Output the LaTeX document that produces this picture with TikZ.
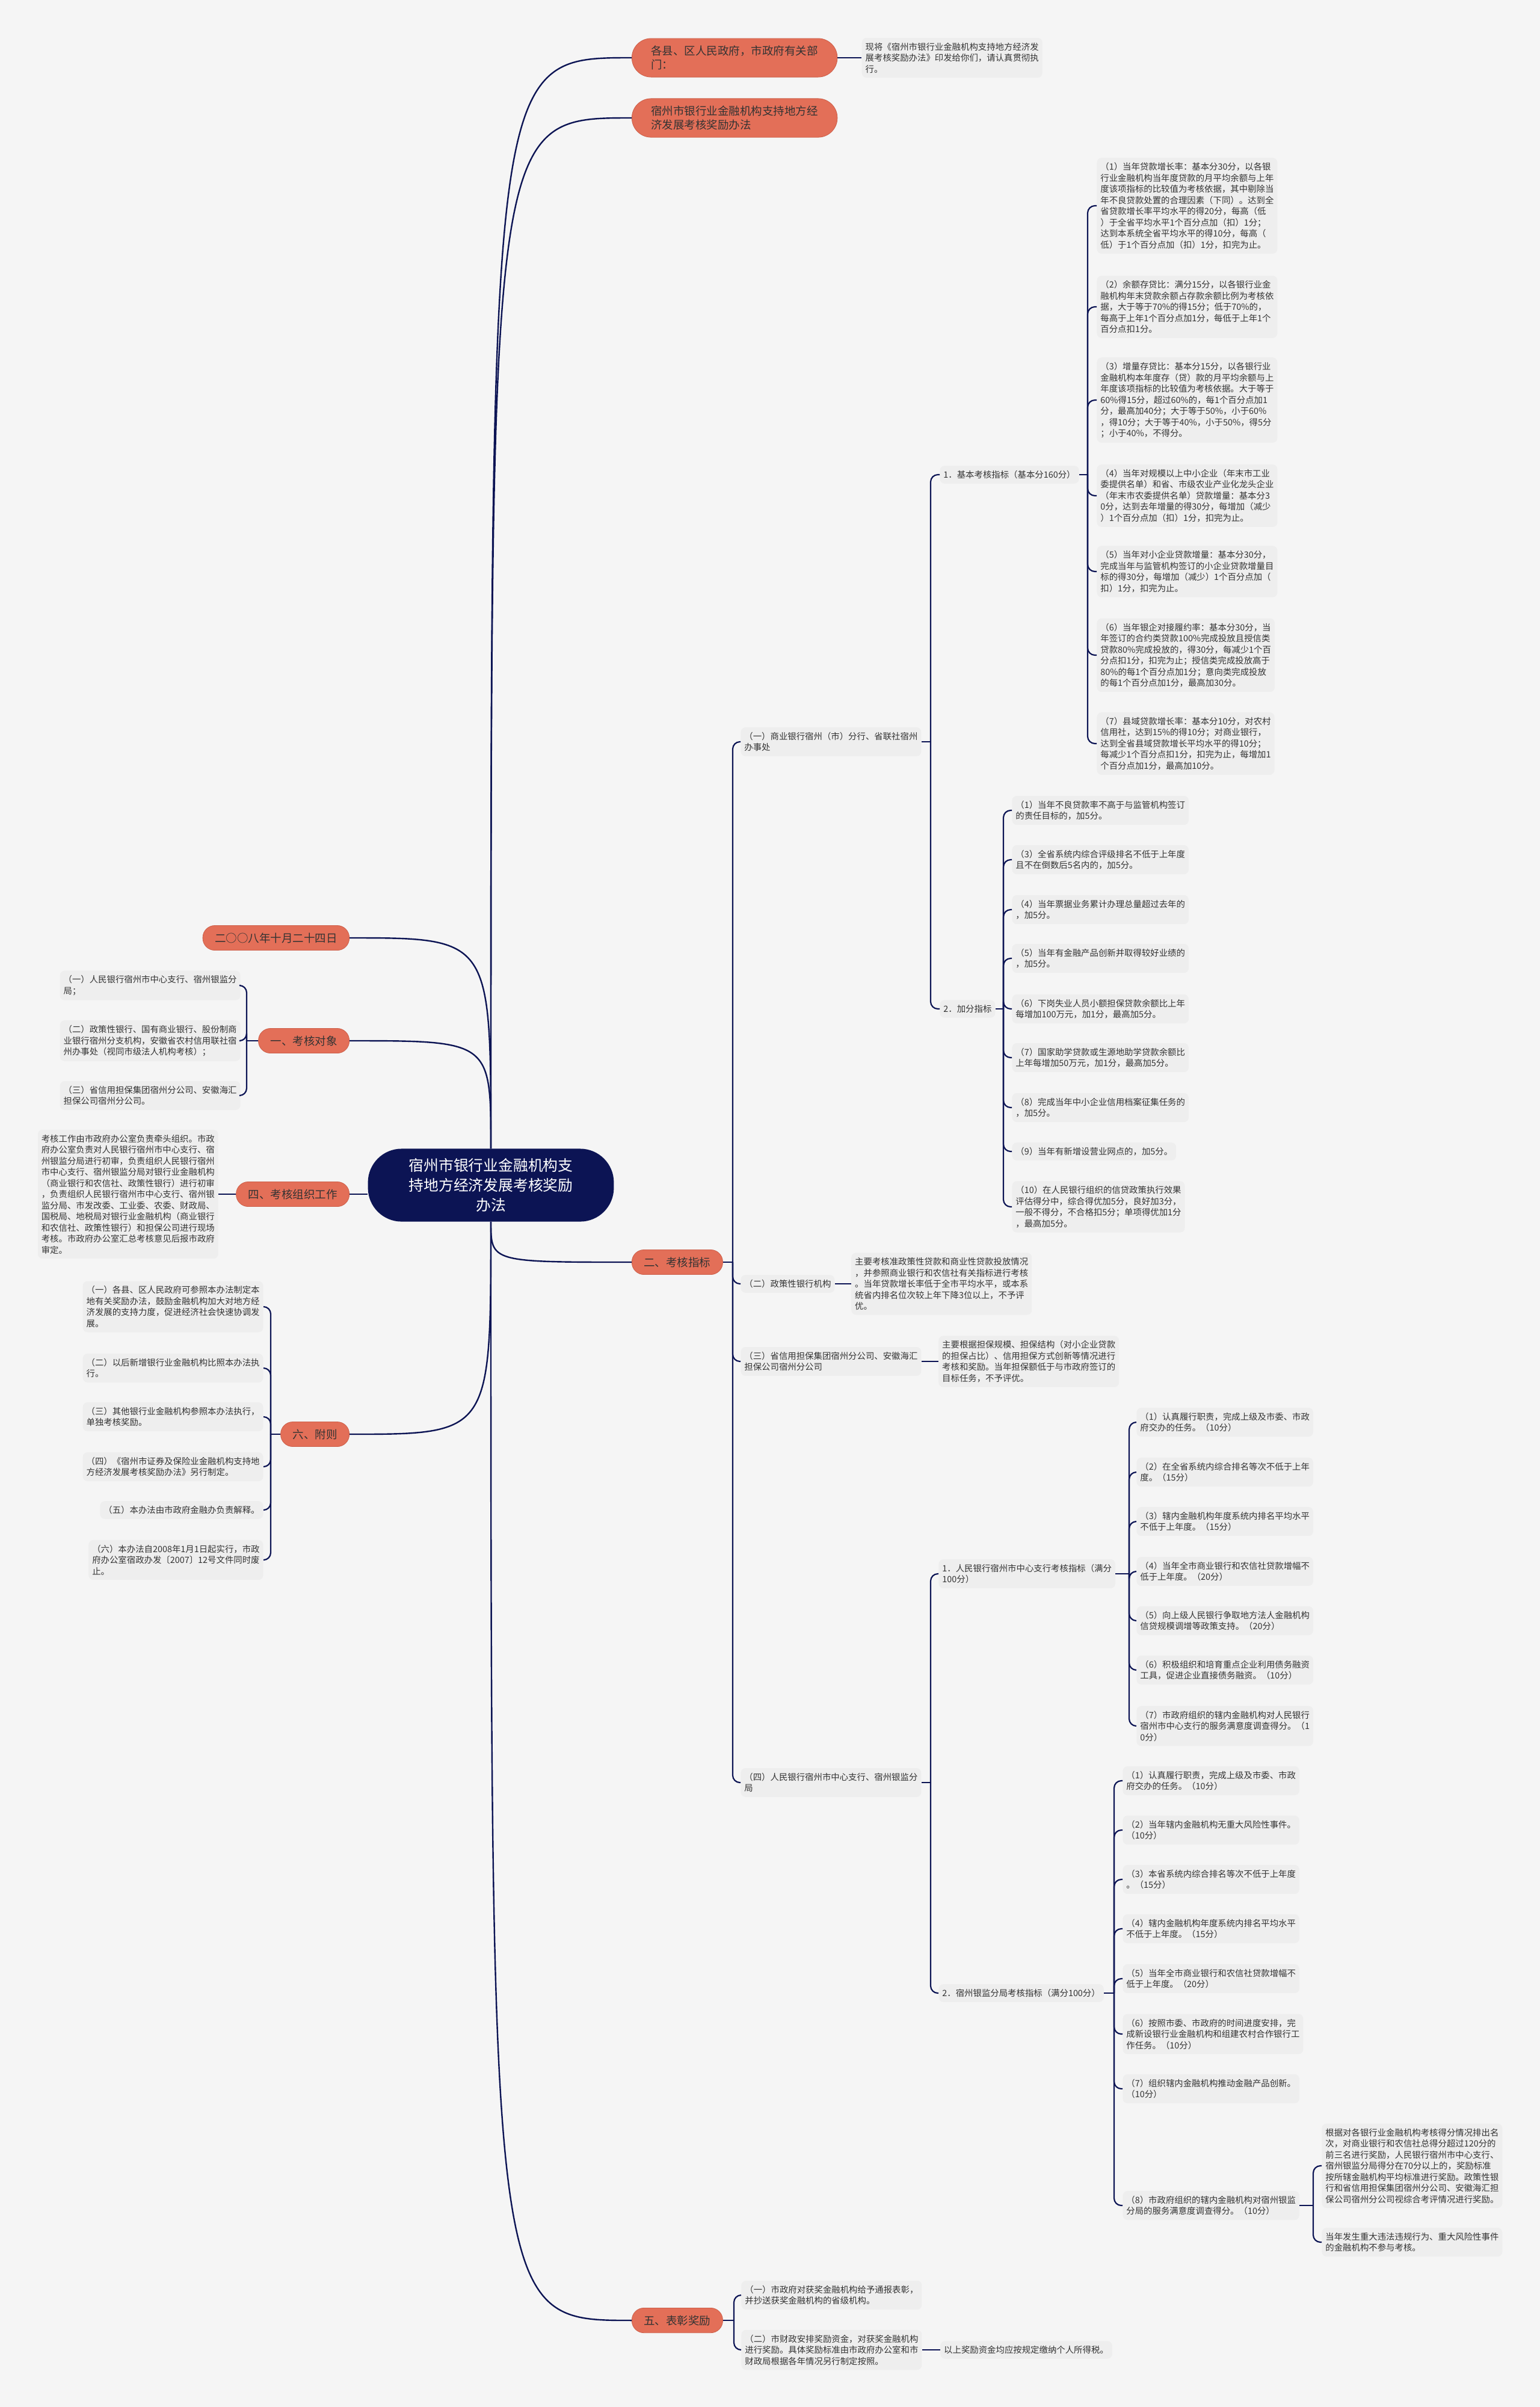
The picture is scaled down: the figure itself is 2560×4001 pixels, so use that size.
\documentclass[tikz,border=0pt]{standalone}
\usepackage{fontspec}
\setmainfont{Noto Sans CJK SC}
\usepackage{tikz}
\usetikzlibrary{positioning, calc}

\definecolor{navy}{HTML}{0C1454}
\definecolor{coral}{HTML}{E36F58}
\definecolor{coraledge}{HTML}{CC5E48}
\definecolor{leafgray}{HTML}{EEEEEE}
\definecolor{bggray}{HTML}{F5F5F5}
\definecolor{inkgray}{HTML}{333333}

\tikzset{
    rootbox/.style={fill=navy, text=white, rounded corners=28pt, inner xsep=34pt, inner ysep=8pt,
        align=center, font=\fontsize{12.4pt}{16.5pt}\selectfont},
    branch/.style={fill=coral, draw=coraledge, line width=0.4pt, text=inkgray, rounded corners=10pt,
        inner xsep=10pt, inner ysep=6pt, align=left, font=\fontsize{9.25pt}{11.5pt}\selectfont},
    widebranch/.style={branch, rounded corners=16pt, inner xsep=16pt},
    leaf/.style={fill=leafgray, text=inkgray, rounded corners=4pt, inner xsep=3pt, inner ysep=4pt,
        align=left, font=\fontsize{7.2pt}{9.25pt}\selectfont},
    trunk/.style={draw=navy, line width=1.2pt},
    twig/.style={draw=navy, line width=1.1pt, rounded corners=6pt}
}

\begin{document}
\begin{tikzpicture}[x=0.5pt, y=-0.5pt]
    \fill[bggray] (0,0) rectangle (2560,4001);
    \useasboundingbox (0,0) rectangle (2560,4001);

    % centre
    \node[rootbox] (root) at (816,1970) {宿州市银行业金融机构支\\持地方经济发展考核奖励\\办法};

    % right-hand branches
    \node[widebranch, anchor=west] (gov) at (1050,96) {各县、区人民政府，市政府有关部\\门：};
    \node[widebranch, anchor=west] (title) at (1050,196) {宿州市银行业金融机构支持地方经\\济发展考核奖励办法};
    \node[branch, anchor=west] (kpi) at (1050,2098) {二、考核指标};
    \node[branch, anchor=west] (award) at (1050,3857) {五、表彰奖励};

    % left-hand branches
    \node[branch, anchor=east] (date) at (581,1559) {二○○八年十月二十四日};
    \node[branch, anchor=east] (obj) at (581,1730) {一、考核对象};
    \node[branch, anchor=east] (org) at (581,1985) {四、考核组织工作};
    \node[branch, anchor=east] (appx) at (581,2384) {六、附则};

    \draw[trunk] (root.north) .. controls (root.north |- gov.west) and (root.north |- gov.west) .. (gov.west);
    \draw[trunk] (root.north) .. controls (root.north |- title.west) and (root.north |- title.west) .. (title.west);
    \draw[trunk] (root.south) .. controls (root.south |- kpi.west) and (root.south |- kpi.west) .. (kpi.west);
    \draw[trunk] (root.south) .. controls (root.south |- award.west) and (root.south |- award.west) .. (award.west);
    \draw[trunk] (root.north) .. controls (root.north |- date.east) and (root.north |- date.east) .. (date.east);
    \draw[trunk] (root.north) .. controls (root.north |- obj.east) and (root.north |- obj.east) .. (obj.east);
    \draw[trunk] (org.east) -- (org.east -| root.west);
    \draw[trunk] (root.south) .. controls (root.south |- appx.east) and (root.south |- appx.east) .. (appx.east);

    % top note
    \node[leaf, right=20pt of gov] (govnote) {现将《宿州市银行业金融机构支持地方经济发\\展考核奖励办法》印发给你们，请认真贯彻执\\行。};
    \draw[trunk] (gov.east) -- (govnote.west);

    % 二、考核指标
    \node[leaf, anchor=west] (comm) at (1231,1233) {（一）商业银行宿州（市）分行、省联社宿州\\办事处};
    \node[leaf, anchor=west] (pol) at (1231,2134) {（二）政策性银行机构};
    \node[leaf, anchor=west] (guar) at (1231,2263) {（三）省信用担保集团宿州分公司、安徽海汇\\担保公司宿州分公司};
    \node[leaf, anchor=west] (pbcsup) at (1231,2963) {（四）人民银行宿州市中心支行、宿州银监分\\局};
    \path (kpi.east -| comm.west) ++(-13,0) coordinate (kpiJ);
    \draw[twig] (kpi.east) -- (kpiJ);
    \foreach \c in {comm,pol,guar,pbcsup}
        \draw[twig] (kpiJ) |- (\c.west);

    \node[leaf, right=13.5pt of pol] (poldesc) {主要考核准政策性贷款和商业性贷款投放情况\\，并参照商业银行和农信社有关指标进行考核\\。当年贷款增长率低于全市平均水平，或本系\\统省内排名位次较上年下降3位以上，不予评\\优。};
    \draw[twig] (pol.east) -- (poldesc.west);
    \node[leaf, right=14pt of guar] (guardesc) {主要根据担保规模、担保结构（对小企业贷款\\的担保占比）、信用担保方式创新等情况进行\\考核和奖励。当年担保额低于与市政府签订的\\目标任务，不予评优。};
    \draw[twig] (guar.east) -- (guardesc.west);

    % （一）商业银行
    \node[leaf, anchor=west] (base) at (1562,789) {1．基本考核指标（基本分160分）};
    \node[leaf, anchor=west] (bonus) at (1562,1677) {2．加分指标};
    \path (comm.east -| base.west) ++(-15,0) coordinate (commJ);
    \draw[twig] (comm.east) -- (commJ);
    \foreach \c in {base,bonus}
        \draw[twig] (commJ) |- (\c.west);

    \node[leaf, anchor=west] (base1) at (1823,342) {（1）当年贷款增长率：基本分30分，以各银\\行业金融机构当年度贷款的月平均余额与上年\\度该项指标的比较值为考核依据，其中剔除当\\年不良贷款处置的合理因素（下同）。达到全\\省贷款增长率平均水平的得20分，每高（低\\）于全省平均水平1个百分点加（扣）1分；\\达到本系统全省平均水平的得10分，每高（\\低）于1个百分点加（扣）1分，扣完为止。};
    \node[leaf, anchor=west] (base2) at (1823,510) {（2）余额存贷比：满分15分，以各银行业金\\融机构年末贷款余额占存款余额比例为考核依\\据，大于等于70\%的得15分；低于70\%的，\\每高于上年1个百分点加1分，每低于上年1个\\百分点扣1分。};
    \node[leaf, anchor=west] (base3) at (1823,665) {（3）增量存贷比：基本分15分，以各银行业\\金融机构本年度存（贷）款的月平均余额与上\\年度该项指标的比较值为考核依据。大于等于\\60\%得15分，超过60\%的，每1个百分点加1\\分，最高加40分；大于等于50\%，小于60\%\\，得10分；大于等于40\%，小于50\%，得5分\\；小于40\%，不得分。};
    \node[leaf, anchor=west] (base4) at (1823,824) {（4）当年对规模以上中小企业（年末市工业\\委提供名单）和省、市级农业产业化龙头企业\\（年末市农委提供名单）贷款增量：基本分3\\0分，达到去年增量的得30分，每增加（减少\\）1个百分点加（扣）1分，扣完为止。};
    \node[leaf, anchor=west] (base5) at (1823,950) {（5）当年对小企业贷款增量：基本分30分，\\完成当年与监管机构签订的小企业贷款增量目\\标的得30分，每增加（减少）1个百分点加（\\扣）1分，扣完为止。};
    \node[leaf, anchor=west] (base6) at (1823,1089) {（6）当年银企对接履约率：基本分30分，当\\年签订的合约类贷款100\%完成投放且授信类\\贷款80\%完成投放的，得30分，每减少1个百\\分点扣1分，扣完为止；授信类完成投放高于\\80\%的每1个百分点加1分；意向类完成投放\\的每1个百分点加1分，最高加30分。};
    \node[leaf, anchor=west] (base7) at (1823,1236) {（7）县域贷款增长率：基本分10分，对农村\\信用社，达到15\%的得10分；对商业银行，\\达到全省县域贷款增长平均水平的得10分；\\每减少1个百分点扣1分，扣完为止，每增加1\\个百分点加1分，最高加10分。};
    \path (base.east -| base1.west) ++(-15,0) coordinate (baseJ);
    \draw[twig] (base.east) -- (baseJ);
    \foreach \k in {1,...,7}
        \draw[twig] (baseJ) |- (base\k.west);

    \node[leaf, anchor=west] (bonus1) at (1682,1347) {（1）当年不良贷款率不高于与监管机构签订\\的责任目标的，加5分。};
    \node[leaf, anchor=west] (bonus3) at (1682,1429) {（3）全省系统内综合评级排名不低于上年度\\且不在倒数后5名内的，加5分。};
    \node[leaf, anchor=west] (bonus4) at (1682,1512) {（4）当年票据业务累计办理总量超过去年的\\，加5分。};
    \node[leaf, anchor=west] (bonus5) at (1682,1593) {（5）当年有金融产品创新并取得较好业绩的\\，加5分。};
    \node[leaf, anchor=west] (bonus6) at (1682,1677) {（6）下岗失业人员小额担保贷款余额比上年\\每增加100万元，加1分，最高加5分。};
    \node[leaf, anchor=west] (bonus7) at (1682,1758) {（7）国家助学贷款或生源地助学贷款余额比\\上年每增加50万元，加1分，最高加5分。};
    \node[leaf, anchor=west] (bonus8) at (1682,1841) {（8）完成当年中小企业信用档案征集任务的\\，加5分。};
    \node[leaf, anchor=west] (bonus9) at (1682,1914) {（9）当年有新增设营业网点的，加5分。};
    \node[leaf, anchor=west] (bonus10) at (1682,2006) {（10）在人民银行组织的信贷政策执行效果\\评估得分中，综合得优加5分，良好加3分，\\一般不得分，不合格扣5分；单项得优加1分\\，最高加5分。};
    \path (bonus.east -| bonus1.west) ++(-14,0) coordinate (bonusJ);
    \draw[twig] (bonus.east) -- (bonusJ);
    \foreach \k in {1,3,4,5,6,7,8,9,10}
        \draw[twig] (bonusJ) |- (bonus\k.west);

    % （四）人民银行、银监分局
    \node[leaf, anchor=west] (pbc) at (1560,2616) {1．人民银行宿州市中心支行考核指标（满分\\100分）};
    \node[leaf, anchor=west] (cbrc) at (1560,3313) {2．宿州银监分局考核指标（满分100分）};
    \path (pbcsup.east -| pbc.west) ++(-13,0) coordinate (supJ);
    \draw[twig] (pbcsup.east) -- (supJ);
    \foreach \c in {pbc,cbrc}
        \draw[twig] (supJ) |- (\c.west);

    \node[leaf, anchor=west] (pbc1) at (1889,2364) {（1）认真履行职责，完成上级及市委、市政\\府交办的任务。（10分）};
    \node[leaf, anchor=west] (pbc2) at (1889,2447) {（2）在全省系统内综合排名等次不低于上年\\度。（15分）};
    \node[leaf, anchor=west] (pbc3) at (1889,2529) {（3）辖内金融机构年度系统内排名平均水平\\不低于上年度。（15分）};
    \node[leaf, anchor=west] (pbc4) at (1889,2612) {（4）当年全市商业银行和农信社贷款增幅不\\低于上年度。（20分）};
    \node[leaf, anchor=west] (pbc5) at (1889,2694) {（5）向上级人民银行争取地方法人金融机构\\信贷规模调增等政策支持。（20分）};
    \node[leaf, anchor=west] (pbc6) at (1889,2776) {（6）积极组织和培育重点企业利用债务融资\\工具，促进企业直接债务融资。（10分）};
    \node[leaf, anchor=west] (pbc7) at (1889,2869) {（7）市政府组织的辖内金融机构对人民银行\\宿州市中心支行的服务满意度调查得分。（1\\0分）};
    \path (pbc.east -| pbc1.west) ++(-12,0) coordinate (pbcJ);
    \draw[twig] (pbc.east) -- (pbcJ);
    \foreach \k in {1,...,7}
        \draw[twig] (pbcJ) |- (pbc\k.west);

    \node[leaf, anchor=west] (cbrc1) at (1866,2960) {（1）认真履行职责，完成上级及市委、市政\\府交办的任务。（10分）};
    \node[leaf, anchor=west] (cbrc2) at (1866,3042) {（2）当年辖内金融机构无重大风险性事件。\\（10分）};
    \node[leaf, anchor=west] (cbrc3) at (1866,3124) {（3）本省系统内综合排名等次不低于上年度\\。（15分）};
    \node[leaf, anchor=west] (cbrc4) at (1866,3206) {（4）辖内金融机构年度系统内排名平均水平\\不低于上年度。（15分）};
    \node[leaf, anchor=west] (cbrc5) at (1866,3289) {（5）当年全市商业银行和农信社贷款增幅不\\低于上年度。（20分）};
    \node[leaf, anchor=west] (cbrc6) at (1866,3381) {（6）按照市委、市政府的时间进度安排，完\\成新设银行业金融机构和组建农村合作银行工\\作任务。（10分）};
    \node[leaf, anchor=west] (cbrc7) at (1866,3472) {（7）组织辖内金融机构推动金融产品创新。\\（10分）};
    \node[leaf, anchor=west] (cbrc8) at (1866,3666) {（8）市政府组织的辖内金融机构对宿州银监\\分局的服务满意度调查得分。（10分）};
    \path (cbrc.east -| cbrc1.west) ++(-14,0) coordinate (cbrcJ);
    \draw[twig] (cbrc.east) -- (cbrcJ);
    \foreach \k in {1,...,8}
        \draw[twig] (cbrcJ) |- (cbrc\k.west);

    \node[leaf, anchor=west] (rank) at (2197,3600) {根据对各银行业金融机构考核得分情况排出名\\次，对商业银行和农信社总得分超过120分的\\前三名进行奖励，人民银行宿州市中心支行、\\宿州银监分局得分在70分以上的，奖励标准\\按所辖金融机构平均标准进行奖励。政策性银\\行和省信用担保集团宿州分公司、安徽海汇担\\保公司宿州分公司视综合考评情况进行奖励。};
    \node[leaf, anchor=west] (noexam) at (2197,3727) {当年发生重大违法违规行为、重大风险性事件\\的金融机构不参与考核。};
    \path (cbrc8.east -| rank.west) ++(-14,0) coordinate (rankJ);
    \draw[twig] (cbrc8.east) -- (rankJ);
    \foreach \c in {rank,noexam}
        \draw[twig] (rankJ) |- (\c.west);

    % 五、表彰奖励
    \node[leaf, anchor=west] (pub) at (1232,3815) {（一）市政府对获奖金融机构给予通报表彰，\\并抄送获奖金融机构的省级机构。};
    \node[leaf, anchor=west] (fund) at (1232,3906) {（二）市财政安排奖励资金，对获奖金融机构\\进行奖励。具体奖励标准由市政府办公室和市\\财政局根据各年情况另行制定按照。};
    \path (award.east -| pub.west) ++(-12,0) coordinate (awardJ);
    \draw[twig] (award.east) -- (awardJ);
    \foreach \c in {pub,fund}
        \draw[twig] (awardJ) |- (\c.west);
    \node[leaf, right=15pt of fund] (tax) {以上奖励资金均应按规定缴纳个人所得税。};
    \draw[twig] (fund.east) -- (tax.west);

    % 一、考核对象
    \node[leaf, anchor=east] (obj1) at (400,1638) {（一）人民银行宿州市中心支行、宿州银监分\\局；};
    \node[leaf, anchor=east] (obj2) at (400,1730) {（二）政策性银行、国有商业银行、股份制商\\业银行宿州分支机构，安徽省农村信用联社宿\\州办事处（视同市级法人机构考核）；};
    \node[leaf, anchor=east] (obj3) at (400,1821) {（三）省信用担保集团宿州分公司、安徽海汇\\担保公司宿州分公司。};
    \path (obj.west -| obj1.east) ++(10,0) coordinate (objJ);
    \draw[twig] (obj.west) -- (objJ);
    \foreach \k in {1,2,3}
        \draw[twig] (objJ) |- (obj\k.east);

    % 四、考核组织工作
    \node[leaf, left=14.5pt of org] (orgtxt) {考核工作由市政府办公室负责牵头组织。市政\\府办公室负责对人民银行宿州市中心支行、宿\\州银监分局进行初审，负责组织人民银行宿州\\市中心支行、宿州银监分局对银行业金融机构\\（商业银行和农信社、政策性银行）进行初审\\，负责组织人民银行宿州市中心支行、宿州银\\监分局、市发改委、工业委、农委、财政局、\\国税局、地税局对银行业金融机构（商业银行\\和农信社、政策性银行）和担保公司进行现场\\考核。市政府办公室汇总考核意见后报市政府\\审定。};
    \draw[twig] (org.west) -- (orgtxt.east);

    % 六、附则
    \node[leaf, anchor=east] (appx1) at (438,2172) {（一）各县、区人民政府可参照本办法制定本\\地有关奖励办法，鼓励金融机构加大对地方经\\济发展的支持力度，促进经济社会快速协调发\\展。};
    \node[leaf, anchor=east] (appx2) at (438,2274) {（二）以后新增银行业金融机构比照本办法执\\行。};
    \node[leaf, anchor=east] (appx3) at (438,2355) {（三）其他银行业金融机构参照本办法执行，\\单独考核奖励。};
    \node[leaf, anchor=east] (appx4) at (438,2438) {（四）《宿州市证券及保险业金融机构支持地\\方经济发展考核奖励办法》另行制定。};
    \node[leaf, anchor=east] (appx5) at (438,2510) {（五）本办法由市政府金融办负责解释。};
    \node[leaf, anchor=east] (appx6) at (438,2593) {（六）本办法自2008年1月1日起实行，市政\\府办公室宿政办发〔2007〕12号文件同时废\\止。};
    \path (appx.west -| appx1.east) ++(12,0) coordinate (appxJ);
    \draw[twig] (appx.west) -- (appxJ);
    \foreach \k in {1,...,6}
        \draw[twig] (appxJ) |- (appx\k.east);
\end{tikzpicture}
\end{document}
